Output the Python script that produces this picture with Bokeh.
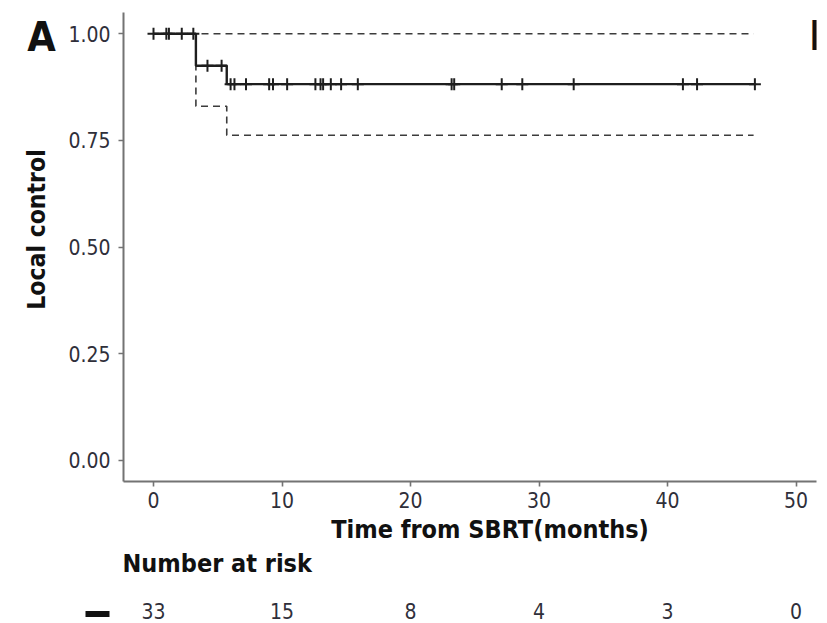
import numpy as np
from bokeh.plotting import figure
from bokeh.layouts import column, row
from bokeh.models import Range1d, FixedTicker, NumeralTickFormatter
from bokeh.core.properties import value
from bokeh.embed import file_html
from bokeh.resources import INLINE

# ---- data ----
step_time = [0.0, 3.3, 5.7, 46.9]
surv = [1.0, 0.925, 0.882, 0.882]
ci_time = [0.0, 3.3, 5.7, 46.7]
ci_upper = [1.0, 1.0, 1.0, 1.0]
ci_lower = [1.0, 0.830, 0.762, 0.762]
censor_time = [0.0, 1.0, 1.2, 2.2, 3.1, 4.2, 5.3, 6.0, 6.3, 7.2, 9.0, 9.3, 10.4,
               12.6, 13.0, 13.2, 13.8, 14.6, 15.9, 23.2, 23.4, 27.1, 28.7, 32.7,
               41.2, 42.3, 46.8]
x_ticks = [0, 10, 20, 30, 40, 50]
y_ticks = [0.0, 0.25, 0.5, 0.75, 1.0]
risk_time = [0, 10, 20, 30, 40, 50]
risk_n = ["33", "15", "8", "4", "3", "0"]

# ---- layout (pixel geometry of the page) ----
W, H = 827, 623
LEFT_W = 63
TOP_H = 515
FRAME_L, FRAME_R, FRAME_T, FRAME_B = 123, 816, 12, 481
X0_PX, PX_PER_X = 153.0, 12.85
Y0_PX, PX_PER_Y = 459.7, 426.4


def xd(px):
    return (px - X0_PX) / PX_PER_X


def yd(py):
    return (Y0_PX - py) / PX_PER_Y


FONT = "DejaVu Sans Condensed"
TICK_COL = "#2f2f3a"
AX_COL = "#737373"
TXT_COL = "#111111"

# ---- main plot ----
p = figure(width=W - LEFT_W, height=TOP_H,
           x_range=Range1d(xd(FRAME_L), xd(FRAME_R)), y_range=Range1d(-0.05, 1.05),
           output_backend="svg", toolbar_location=None,
           min_border_left=FRAME_L - LEFT_W, min_border_right=W - FRAME_R,
           min_border_top=FRAME_T, min_border_bottom=TOP_H - FRAME_B)
p.outline_line_color = None
p.xgrid.visible = False
p.ygrid.visible = False

for ax in (p.xaxis[0], p.yaxis[0]):
    ax.axis_line_color = AX_COL
    ax.axis_line_width = 2
    ax.major_tick_line_color = AX_COL
    ax.major_tick_line_width = 1.6
    ax.major_tick_out = 5
    ax.major_tick_in = 0
    ax.minor_tick_line_color = None
    ax.major_label_text_font = FONT
    ax.major_label_text_font_size = "21px"
    ax.major_label_text_color = TICK_COL

p.xaxis.ticker = FixedTicker(ticks=x_ticks)
p.yaxis.ticker = FixedTicker(ticks=y_ticks)
p.yaxis.formatter = NumeralTickFormatter(format="0.00")
p.xaxis.major_label_standoff = 5
p.yaxis.major_label_standoff = 8

# confidence band
p.step(ci_time, ci_upper, mode="after", line_color="#3c3c3c", line_width=1.6, line_dash="7 5")
p.step(ci_time, ci_lower, mode="after", line_color="#3c3c3c", line_width=1.6, line_dash="7 5")
# survival curve and censor marks
p.step(step_time, surv, mode="after", line_color="#1e1e1e", line_width=2.4)
idx = np.searchsorted(np.array(step_time), np.array(censor_time), side="right") - 1
censor_surv = [surv[i] for i in idx]
p.scatter(censor_time, censor_surv, marker="cross", size=12, line_color="#1e1e1e", line_width=2)

# neighbouring panel's letter, cut by the panel edge as in the source figure
p.text(x=[xd(808.5)], y=[yd(52.3 - 17)], text=["B"], text_align="left", text_baseline="alphabetic",
       text_font=value(FONT), text_font_style="bold", text_font_size="41px", text_color=TXT_COL)

# ---- left strip: panel letter and y-axis title (frame aligned with main plot) ----
left = figure(width=LEFT_W, height=TOP_H, x_range=Range1d(xd(0), xd(LEFT_W)),
              y_range=p.y_range, output_backend="svg", toolbar_location=None,
              x_axis_location=None, y_axis_location=None, min_border=0,
              min_border_top=FRAME_T, min_border_bottom=TOP_H - FRAME_B)
left.outline_line_color = None
left.xgrid.visible = False
left.ygrid.visible = False
left.text(x=[xd(41)], y=[yd(53.3 - 17)], text=["A"], text_align="center", text_baseline="alphabetic",
          text_font=value(FONT), text_font_style="bold", text_font_size="41px", text_color=TXT_COL)
left.text(x=[xd(47 - 11)], y=[yd(229)], text=["Local control"], angle=np.pi / 2,
          text_align="center", text_baseline="alphabetic",
          text_font=value(FONT), text_font_style="bold", text_font_size="24.5px", text_color=TXT_COL)

# ---- bottom strip: x title and risk table ----
bottom = figure(width=W, height=H - TOP_H, x_range=Range1d(xd(0), xd(W)),
                y_range=Range1d(yd(H), yd(TOP_H)), output_backend="svg", toolbar_location=None,
                x_axis_location=None, y_axis_location=None, min_border=0)
bottom.outline_line_color = None
bottom.xgrid.visible = False
bottom.ygrid.visible = False
bottom.text(x=[xd(489.5)], y=[yd(537 - 8)], text=["Time from SBRT(months)"], text_align="center",
            text_baseline="alphabetic", text_font=value(FONT), text_font_style="bold",
            text_font_size="25px", text_color=TXT_COL)
bottom.text(x=[xd(122)], y=[yd(572 - 9)], text=["Number at risk"], text_align="left",
            text_baseline="alphabetic", text_font=value(FONT), text_font_style="bold",
            text_font_size="25px", text_color=TXT_COL)
bottom.text(x=risk_time, y=[yd(610)] * len(risk_time), text=risk_n, text_align="center",
            text_baseline="alphabetic", text_font=value(FONT), text_font_size="21px",
            text_color=TICK_COL)
# strata key of the risk table
bottom.segment(x0=[xd(85)], x1=[xd(109)], y0=[yd(613.5)], y1=[yd(613.5)],
               line_color=TXT_COL, line_width=6, line_cap="butt")

layout = column(row(left, p), bottom)
open("out.html", "w").write(file_html(layout, INLINE))
